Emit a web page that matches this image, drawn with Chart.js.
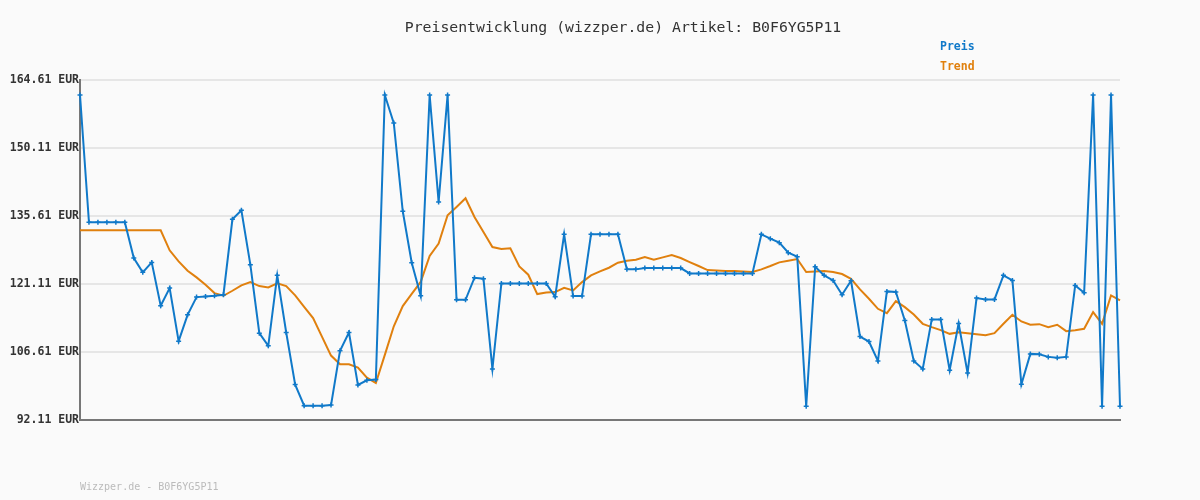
<!DOCTYPE html>
<html>
<head>
<meta charset="utf-8">
<script src="https://cdn.jsdelivr.net/npm/chart.js@4"></script>
<style>
  body { margin: 0; background: #fafafa; }
</style>
</head>
<body>
<canvas id="priceChart" width="1200" height="500"></canvas>
<script>
const titel = "Preisentwicklung (wizzper.de) Artikel: B0F6YG5P11";
const fusszeile = "Wizzper.de - B0F6YG5P11";

// Preise (EUR) pro Messpunkt
const preis = [
  161.4, 134.27, 134.27, 134.27, 134.27, 134.27, 126.65, 123.59, 125.72, 116.46,
  120.24, 108.92, 114.54, 118.32, 118.46, 118.6, 118.82, 134.91, 136.83, 125.23,
  110.63, 107.92, 122.95, 110.77, 99.66, 95.17, 95.17, 95.17, 95.3, 106.85,
  110.77, 99.59, 100.58, 100.72, 161.4, 155.42, 136.62, 125.65, 118.6, 161.4,
  138.6, 161.4, 117.75, 117.75, 122.45, 122.23, 103.0, 121.24, 121.24, 121.24,
  121.24, 121.24, 121.24, 118.39, 131.7, 118.53, 118.53, 131.7, 131.7, 131.7,
  131.7, 124.23, 124.23, 124.51, 124.51, 124.51, 124.51, 124.51, 123.37, 123.37,
  123.37, 123.37, 123.37, 123.37, 123.37, 123.37, 131.7, 130.78, 129.93, 127.79,
  126.93, 95.03, 124.8, 122.95, 121.88, 118.82, 121.8, 109.91, 108.84, 104.71,
  119.53, 119.39, 113.33, 104.71, 103.0, 113.54, 113.54, 102.72, 112.69, 102.15,
  118.1, 117.82, 117.82, 122.95, 121.88, 99.73, 106.21, 106.14, 105.57, 105.36,
  105.57, 120.81, 119.24, 161.4, 95.03, 161.4, 95.03
];

// Trend (gleitender Durchschnitt)
const trend = [
  132.56, 132.56, 132.56, 132.56, 132.56, 132.56, 132.56, 132.56, 132.56, 132.56,
  128.29, 125.94, 123.94, 122.52, 120.95, 119.17, 118.6, 119.67, 120.81, 121.52,
  120.67, 120.38, 121.24, 120.67, 118.68, 116.25, 113.83, 109.84, 105.85, 104.0,
  104.0, 103.29, 101.15, 100.01, 106.0, 112.1, 116.4, 119.0, 121.55, 127.1,
  129.74, 135.78, 137.55, 139.4, 135.41, 132.2, 129.0, 128.57, 128.71, 124.87,
  123.09, 118.96, 119.31, 119.39, 120.31, 119.74, 121.52, 122.95, 123.8, 124.58,
  125.65, 126.08, 126.29, 126.86, 126.29, 126.79, 127.29, 126.65, 125.79, 124.94,
  124.08, 124.01, 123.87, 123.87, 123.8, 123.66, 124.23, 124.94, 125.72, 126.08,
  126.44, 123.66, 123.8, 123.87, 123.66, 123.23, 122.23, 119.95, 117.96, 115.82,
  114.9, 117.46, 116.18, 114.61, 112.62, 111.91, 111.27, 110.48, 110.84, 110.63,
  110.41, 110.2, 110.63, 112.62, 114.54, 113.12, 112.41, 112.55, 111.91, 112.41,
  111.06, 111.27, 111.55, 115.11, 112.62, 118.67, 117.61
];

const messpunkte = preis.map((_, i) => String(i + 1));
const yTicks = [92.11, 106.61, 121.11, 135.61, 150.11, 164.61];

const farbePreis = "#1079c9";
const farbeTrend = "#e0800e";
const mono = '"DejaVu Sans Mono", "Liberation Mono", monospace';

// Hintergrund, Titel, Legende und Fusszeile
const textPlugin = {
  id: "texte",
  beforeDraw(chart) {
    const ctx = chart.ctx;
    ctx.save();
    ctx.fillStyle = "#fafafa";
    ctx.fillRect(0, 0, chart.width, chart.height);
    ctx.restore();
  },
  afterDraw(chart) {
    const ctx = chart.ctx;
    ctx.save();
    ctx.textBaseline = "middle";
    ctx.font = "14.8px " + mono;
    ctx.fillStyle = "#333";
    ctx.textAlign = "center";
    ctx.fillText(titel, 623, 28);

    ctx.textAlign = "left";
    ctx.font = "bold 11.5px " + mono;
    chart.data.datasets.forEach((ds, i) => {
      ctx.fillStyle = ds.borderColor;
      ctx.fillText(ds.label, 940, 47 + i * 20);
    });

    ctx.font = "10px " + mono;
    ctx.fillStyle = "#bbbbbb";
    ctx.fillText(fusszeile, 80, 487);
    ctx.restore();
  }
};

new Chart(document.getElementById("priceChart"), {
  type: "line",
  data: {
    labels: messpunkte,
    datasets: [
      {
        label: "Preis",
        data: preis,
        borderColor: farbePreis,
        backgroundColor: farbePreis,
        borderWidth: 2,
        pointStyle: "cross",
        pointRadius: 2.5,
        pointBorderWidth: 1.5,
        tension: 0,
        clip: false
      },
      {
        label: "Trend",
        data: trend,
        borderColor: farbeTrend,
        borderWidth: 2,
        pointRadius: 0,
        tension: 0,
        clip: false
      }
    ]
  },
  options: {
    responsive: false,
    animation: false,
    layout: { padding: { top: 80, right: 80, bottom: 80, left: 0 } },
    plugins: {
      legend: { display: false },
      title: { display: false },
      tooltip: { enabled: false }
    },
    scales: {
      x: {
        offset: false,
        grid: { display: false },
        ticks: { display: false },
        border: { color: "#777", width: 2 },
        afterFit(s) { s.height = 0; }
      },
      y: {
        min: yTicks[0],
        max: yTicks[yTicks.length - 1],
        afterBuildTicks(s) { s.ticks = yTicks.map(v => ({ value: v })); },
        afterFit(s) { s.width = 80; },
        grid: { color: "#e6e6e6", lineWidth: 2, drawTicks: false },
        border: { color: "#777", width: 2 },
        ticks: {
          padding: 1,
          color: "#333",
          font: { family: mono, size: 11.5, weight: "bold" },
          callback: v => v.toFixed(2) + " EUR"
        }
      }
    }
  },
  plugins: [textPlugin]
});
</script>
</body>
</html>
